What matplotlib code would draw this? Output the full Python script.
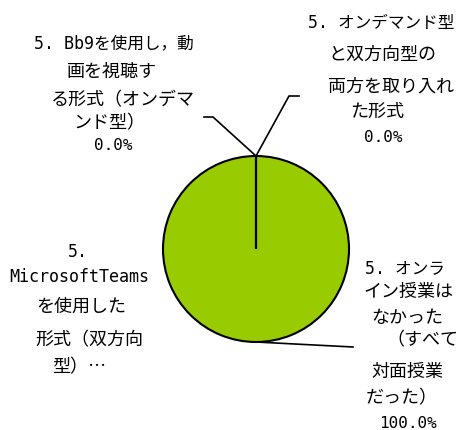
import matplotlib
matplotlib.use("Agg")
import matplotlib.pyplot as plt
import numpy as np

# ---- data ----
categories = [
    "5. Bb9を使用し，動画を視聴する形式（オンデマンド型）",
    "5. MicrosoftTeamsを使用した形式（双方向型）…",
    "5. オンデマンド型と双方向型の両方を取り入れた形式",
    "5. オンライン授業はなかった（すべて対面授業だった）",
]
values = [0, 0, 0, 100]
label_lines = [
    ["5. Bb9を使用し，動", "画を視聴す", "る形式（オンデマ", "ンド型）"],
    ["5.", "MicrosoftTeams", "を使用した", "形式（双方向", "型）…"],
    ["5. オンデマンド型", "と双方向型の", "両方を取り入れ", "た形式"],
    ["5. オンラ", "イン授業は", "なかった", "（すべて", "対面授業", "だった）"],
]
show_pct = [True, False, True, True]

# ---- layout (pixel coordinates) ----
W, H = 465, 430
fig = plt.figure(figsize=(W / 100, H / 100), dpi=100)
ax = fig.add_axes([0, 0, 1, 1])
ax.set_xlim(0, W)
ax.set_ylim(H, 0)
ax.axis("off")

cx, cy, R = 256, 249, 93
order = [3, 0, 1, 2]
wedges, _ = ax.pie([values[i] for i in order], colors=["#99CC00"] * 4,
                   startangle=-90, counterclock=True, center=(cx, cy), radius=R,
                   wedgeprops=dict(edgecolor="black", linewidth=1.5))
ax.set_xlim(0, W)
ax.set_ylim(H, 0)
ax.set_aspect("equal")

fam_latin = ["DejaVu Sans Mono", "Noto Sans CJK JP"]
fam_cjk = ["Noto Sans CJK JP", "DejaVu Sans Mono"]
total = sum(values)


def style_for(t):
    if any(c.isascii() and c.isalnum() for c in t):
        return fam_latin, 12
    return fam_cjk, 13


layout = {
    0: dict(xs=[114, 112, 123, 109], ys=[43, 72, 100, 123], pct=(113, 145)),
    1: dict(xs=[78, 79, 81, 89, 79], ys=[252, 277, 307, 340, 367], pct=None),
    2: dict(xs=[381, 382, 391, 377], ys=[23, 55, 87, 112], pct=(383, 137)),
    3: dict(xs=[405, 408, 407, 422, 407, 402], ys=[268, 292, 318, 340, 372, 398], pct=(408, 423)),
}
for i, lines in enumerate(label_lines):
    L = layout[i]
    for t, x, y in zip(lines, L["xs"], L["ys"]):
        fam, fs = style_for(t)
        ax.text(x, y, t, family=fam, fontsize=fs, ha="center", va="center", color="black")
    if show_pct[i] and L["pct"] is not None:
        ax.text(L["pct"][0], L["pct"][1], f"{values[i] / total * 100:.1f}%", family=fam_latin,
                fontsize=11.5, ha="center", va="center", color="black")


def edge_point(frac_start):
    ang = np.deg2rad(-90 + 360 * frac_start)
    return cx + R * np.cos(ang), cy + R * np.sin(ang)


top = edge_point(0.0)
ax.plot([top[0], 213, 204], [top[1], 117, 117], color="black", lw=1.2)
ax.plot([top[0], 289, 299], [top[1], 96, 96], color="black", lw=1.2)
bot = edge_point(0.5)
ax.plot([bot[0], 353], [bot[1], 347], color="black", lw=1.2)

fig.savefig("out.png", dpi=100)
